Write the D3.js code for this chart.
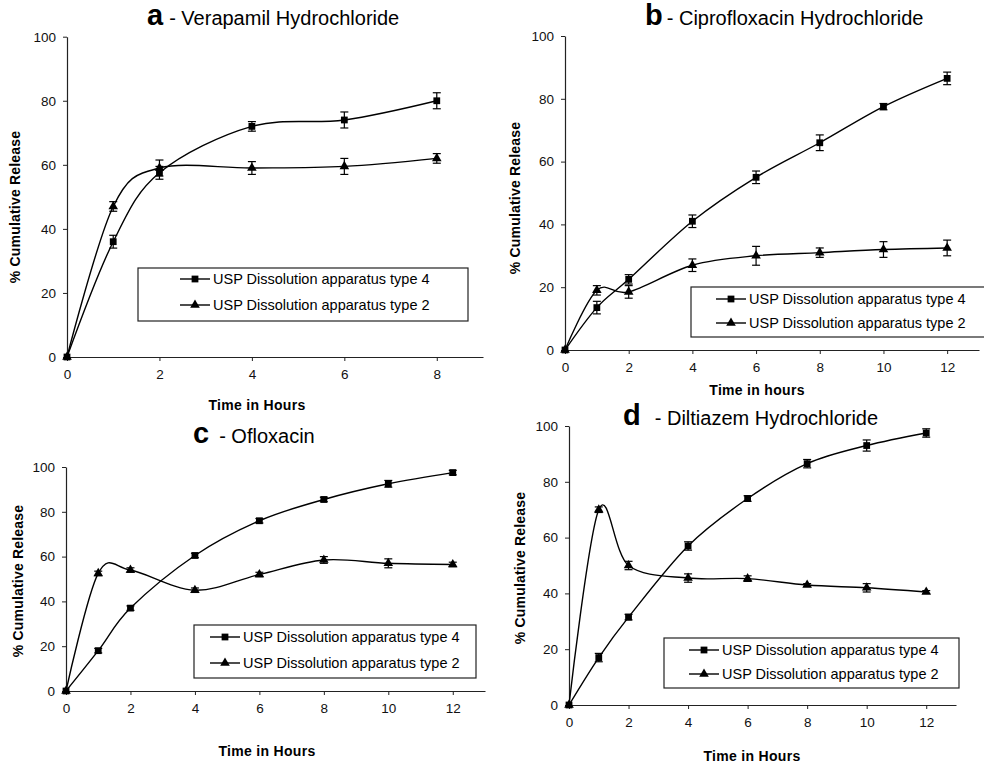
<!DOCTYPE html>
<html>
<head>
<meta charset="utf-8">
<style>
    body { margin: 0; background: white; }
    svg { font-family: "Liberation Sans", Arial, sans-serif; }
</style>
</head>
<body>
<svg width="984" height="763"></svg>
<script src="https://d3js.org/d3.v7.min.js"></script>
<script>
// data
const timeA = [0, 1, 2, 4, 6, 8];
const timeLong = [0, 1, 2, 4, 6, 8, 10, 12];

const verapamilType4 = [0, 36, 57.5, 72, 74, 80];
const verapamilType4Err = [0, 2, 2, 1.5, 2.5, 2.5];
const verapamilType2 = [0, 47, 59, 59, 59.5, 62];
const verapamilType2Err = [0, 1.5, 2.5, 2, 2.5, 1.5];

const ciproType4 = [0, 13.5, 22.5, 41, 55, 66, 77.5, 86.5];
const ciproType4Err = [0, 2, 1.5, 2, 2, 2.5, 1, 2];
const ciproType2 = [0, 19, 18.5, 27, 30, 31, 32, 32.5];
const ciproType2Err = [0, 1.5, 2, 2, 3, 1.5, 2.5, 2.5];

const oflaxType4 = [0, 18, 37, 60.5, 76, 85.5, 92.5, 97.5];
const oflaxType4Err = [0, 1, 1, 1, 1, 1, 1.5, 1];
const oflaxType2 = [0, 52.5, 54, 45, 52, 58.5, 57, 56.5];
const oflaxType2Err = [0, 1, 1, 1, 1, 1.5, 2, 1];

const diltType4 = [0, 17, 31.5, 57, 74, 86.5, 93, 97.5];
const diltType4Err = [0, 1.5, 1, 1.5, 1, 1.5, 2, 1.5];
const diltType2 = [0, 70, 50, 45.5, 45.3, 43, 42, 40.5];
const diltType2Err = [0, 1, 1.5, 1.5, 1, 0.5, 1.5, 0.5];

const yTicks = [0, 20, 40, 60, 80, 100];
const xTicksA = [0, 2, 4, 6, 8];
const xTicksLong = [0, 2, 4, 6, 8, 10, 12];
const legendLabels = ["USP Dissolution apparatus type 4", "USP Dissolution apparatus type 2"];

const svg = d3.select("svg");

const panels = [
    {
        letter: "a", title: "- Verapamil Hydrochloride", titleX: 147, titleY: 25, gap: 6,
        time: timeA, s4: verapamilType4, e4: verapamilType4Err, s2: verapamilType2, e2: verapamilType2Err,
        xMax: 9, xTicks: xTicksA, left: 67, right: 483, top: 36.7, bottom: 357,
        yLabel: [15, 207], xLabel: "Time in Hours", xLabelPos: [257, 410],
        legend: { x: 138, y: 268, w: 330, h: 53, rows: [279, 305], lx: 180 }
    },
    {
        letter: "b", title: "- Ciprofloxacin Hydrochloride", titleX: 645, titleY: 25, gap: 4,
        time: timeLong, s4: ciproType4, e4: ciproType4Err, s2: ciproType2, e2: ciproType2Err,
        xMax: 13, xTicks: xTicksLong, left: 565, right: 979, top: 36, bottom: 350,
        yLabel: [515, 198], xLabel: "Time in hours", xLabelPos: [757, 395],
        legend: { x: 691, y: 287, w: 300, h: 50, rows: [299, 323], lx: 716 }
    },
    {
        letter: "c", title: "- Ofloxacin", titleX: 193, titleY: 443, gap: 10,
        time: timeLong, s4: oflaxType4, e4: oflaxType4Err, s2: oflaxType2, e2: oflaxType2Err,
        xMax: 13, xTicks: xTicksLong, left: 66, right: 485, top: 467, bottom: 691,
        yLabel: [18, 581], xLabel: "Time in Hours", xLabelPos: [267, 756],
        legend: { x: 194, y: 625, w: 282, h: 53, rows: [637, 663], lx: 210 }
    },
    {
        letter: "d", title: "- Diltiazem Hydrochloride", titleX: 623, titleY: 425, gap: 14,
        time: timeLong, s4: diltType4, e4: diltType4Err, s2: diltType2, e2: diltType2Err,
        xMax: 13, xTicks: xTicksLong, left: 569, right: 956, top: 426, bottom: 705,
        yLabel: [520, 568], xLabel: "Time in Hours", xLabelPos: [752, 761],
        legend: { x: 664, y: 638, w: 295, h: 50, rows: [650, 674], lx: 689 }
    }
];

const square = d3.symbol().type(d3.symbolSquare).size(46);
const triangle = d3.symbol().type(d3.symbolTriangle).size(40);

panels.forEach(p => {
    let g = svg.append("g");
    let x = d3.scaleLinear().domain([0, p.xMax]).range([p.left, p.right]);
    let y = d3.scaleLinear().domain([0, 100]).range([p.bottom, p.top]);

    // axes
    let xAxis = g.append("g")
        .attr("transform", `translate(0,${p.bottom})`)
        .call(d3.axisBottom(x).tickValues(p.xTicks).tickSize(4).tickSizeOuter(0).tickPadding(8));
    let yAxis = g.append("g")
        .attr("transform", `translate(${p.left},0)`)
        .call(d3.axisLeft(y).tickValues(yTicks).tickSize(4).tickSizeOuter(0).tickPadding(7));
    [xAxis, yAxis].forEach(a => {
        a.select(".domain").attr("stroke", "#222").attr("stroke-width", 1.2);
        a.selectAll(".tick line").attr("stroke", "#222");
        a.selectAll(".tick text").attr("font-size", 13.5).attr("fill", "#111")
            .attr("font-family", "Liberation Sans, Arial, sans-serif");
    });

    // title
    let t = g.append("text").attr("x", p.titleX).attr("y", p.titleY).attr("fill", "#000");
    t.append("tspan").attr("font-size", 29).attr("font-weight", "bold").text(p.letter);
    t.append("tspan").attr("dx", p.gap).attr("font-size", 20).text(p.title);

    // axis titles
    g.append("text")
        .attr("transform", `translate(${p.yLabel[0]},${p.yLabel[1]}) rotate(-90)`)
        .attr("text-anchor", "middle").attr("dy", "0.35em")
        .attr("font-size", 14).attr("font-weight", "bold").attr("letter-spacing", 0.2)
        .text("% Cumulative Release");
    g.append("text")
        .attr("x", p.xLabelPos[0]).attr("y", p.xLabelPos[1])
        .attr("text-anchor", "middle")
        .attr("font-size", 14).attr("font-weight", "bold").attr("letter-spacing", 0.3)
        .text(p.xLabel);

    let line = d3.line()
        .x((d, i) => x(p.time[i]))
        .y(d => y(d))
        .curve(d3.curveCardinal.tension(0));

    let series = [
        { vals: p.s4, errs: p.e4, sym: square },
        { vals: p.s2, errs: p.e2, sym: triangle }
    ];

    series.forEach(s => {
        g.append("path")
            .attr("d", line(s.vals))
            .attr("fill", "none")
            .attr("stroke", "#000")
            .attr("stroke-width", 1.4);

        // error bars
        let eb = g.append("g").attr("stroke", "#000").attr("stroke-width", 1.2);
        s.vals.forEach((v, i) => {
            if (s.errs[i] <= 0) return;
            let cx = x(p.time[i]);
            let y1 = y(v - s.errs[i]), y2 = y(v + s.errs[i]);
            eb.append("line").attr("x1", cx).attr("x2", cx).attr("y1", y1).attr("y2", y2);
            eb.append("line").attr("x1", cx - 4).attr("x2", cx + 4).attr("y1", y1).attr("y2", y1);
            eb.append("line").attr("x1", cx - 4).attr("x2", cx + 4).attr("y1", y2).attr("y2", y2);
        });

        g.append("g")
            .selectAll("path")
            .data(s.vals)
            .join("path")
            .attr("d", s.sym)
            .attr("transform", (d, i) => `translate(${x(p.time[i])},${y(d)})`)
            .attr("fill", "#000");
    });

    // legend
    let L = p.legend;
    g.append("rect")
        .attr("x", L.x).attr("y", L.y).attr("width", L.w).attr("height", L.h)
        .attr("fill", "white").attr("stroke", "#222").attr("stroke-width", 1.2);
    [square, triangle].forEach((sym, i) => {
        let ry = L.rows[i];
        g.append("line")
            .attr("x1", L.lx).attr("x2", L.lx + 30).attr("y1", ry).attr("y2", ry)
            .attr("stroke", "#000").attr("stroke-width", 1.4);
        g.append("path").attr("d", sym).attr("fill", "#000")
            .attr("transform", `translate(${L.lx + 15},${ry})`);
        g.append("text")
            .attr("x", L.lx + 33).attr("y", ry).attr("dy", "0.35em")
            .attr("font-size", 14.5)
            .text(legendLabels[i]);
    });
});
</script>
</body>
</html>
